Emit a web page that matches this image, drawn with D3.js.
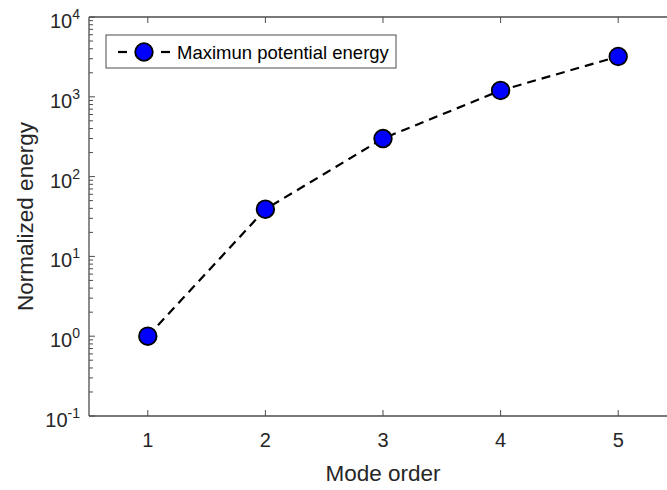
<!DOCTYPE html>
<html>
<head>
<meta charset="utf-8">
<script src="https://cdn.jsdelivr.net/npm/d3@7"></script>
<style>
  body { margin: 0; background: #fff; }
  svg { display: block; font-family: "Liberation Sans", Arial, sans-serif; }
</style>
</head>
<body>
<svg width="667" height="490"></svg>
<script>
const modes = [1, 2, 3, 4, 5];
const energy = [1, 39, 300, 1200, 3200];
const yTicks = [0.1, 1, 10, 100, 1000, 10000];
const xTicks = [1, 2, 3, 4, 5];
const seriesName = "Maximun potential energy";

const svg = d3.select("svg");
const plotLeft = 89, plotTop = 17, plotBottom = 416, plotRight = 677;
const axisColor = "#4d4d4d", textColor = "#262626";

const x = d3.scaleLinear().domain([0.5, 5.5]).range([plotLeft, plotRight]);
const y = d3.scaleLog().domain([0.1, 10000]).range([plotBottom, plotTop]);

const g = svg.append("g");

// minor ticks on y (log)
const minor = y.ticks().filter(v => !yTicks.some(t => Math.abs(t - v) / t < 1e-9));
g.selectAll(".minor").data(minor).enter().append("line")
    .attr("x1", plotLeft).attr("x2", plotLeft + 4)
    .attr("y1", d => y(d)).attr("y2", d => y(d))
    .attr("stroke", axisColor).attr("stroke-width", 1);

g.selectAll(".ymaj").data(yTicks).enter().append("line")
    .attr("x1", plotLeft).attr("x2", plotLeft + 6)
    .attr("y1", d => y(d)).attr("y2", d => y(d))
    .attr("stroke", axisColor).attr("stroke-width", 1);

// x ticks bottom & top
g.selectAll(".xb").data(xTicks).enter().append("line")
    .attr("x1", d => x(d)).attr("x2", d => x(d))
    .attr("y1", plotBottom).attr("y2", plotBottom - 6)
    .attr("stroke", axisColor);
g.selectAll(".xt").data(xTicks).enter().append("line")
    .attr("x1", d => x(d)).attr("x2", d => x(d))
    .attr("y1", plotTop).attr("y2", plotTop + 6)
    .attr("stroke", axisColor);

// axis lines
g.append("line").attr("x1", plotLeft).attr("x2", plotLeft).attr("y1", plotTop).attr("y2", plotBottom)
    .attr("stroke", axisColor).attr("stroke-width", 1.3);
g.append("line").attr("x1", plotLeft).attr("x2", plotRight).attr("y1", plotBottom).attr("y2", plotBottom)
    .attr("stroke", axisColor).attr("stroke-width", 1.3);
g.append("line").attr("x1", plotLeft).attr("x2", plotRight).attr("y1", plotTop).attr("y2", plotTop)
    .attr("stroke", axisColor).attr("stroke-width", 1.3);

// tick labels
g.selectAll(".xl").data(xTicks).enter().append("text")
    .attr("x", d => x(d)).attr("y", 447)
    .attr("text-anchor", "middle").attr("font-size", 20).attr("fill", textColor)
    .text(d => d);

const yl = g.selectAll(".yl").data(yTicks).enter().append("text")
    .attr("x", 80).attr("y", d => y(d) + 11)
    .attr("text-anchor", "end").attr("fill", textColor);
yl.append("tspan").attr("font-size", 20).text("10");
yl.append("tspan").attr("font-size", 14).attr("dy", -9).text(d => Math.round(Math.log10(d)));

// axis labels
g.append("text").attr("x", (plotLeft + plotRight) / 2).attr("y", 481)
    .attr("text-anchor", "middle").attr("font-size", 22.5).attr("fill", textColor)
    .text("Mode order");
g.append("text").attr("transform", `translate(33,${(plotTop + plotBottom) / 2}) rotate(-90)`)
    .attr("text-anchor", "middle").attr("font-size", 22.5).attr("fill", textColor)
    .text("Normalized energy");

// series
const line = d3.line().x((d, i) => x(modes[i])).y(d => y(d));
g.append("path").datum(energy)
    .attr("d", line).attr("fill", "none")
    .attr("stroke", "#000").attr("stroke-width", 2.2)
    .attr("stroke-dasharray", "9,6");

g.selectAll(".pt").data(energy).enter().append("circle")
    .attr("cx", (d, i) => x(modes[i])).attr("cy", d => y(d))
    .attr("r", 8.8).attr("fill", "#0000ff")
    .attr("stroke", "#000").attr("stroke-width", 1.8);

// legend
const lg = g.append("g");
lg.append("rect").attr("x", 106).attr("y", 35).attr("width", 290).attr("height", 33)
    .attr("fill", "#fff").attr("stroke", axisColor).attr("stroke-width", 1);
[[118, 127], [161, 170]].forEach(s => {
    lg.append("line").attr("x1", s[0]).attr("x2", s[1]).attr("y1", 52).attr("y2", 52)
        .attr("stroke", "#000").attr("stroke-width", 2.2);
});
lg.append("circle").attr("cx", 144).attr("cy", 52).attr("r", 8.8)
    .attr("fill", "#0000ff").attr("stroke", "#000").attr("stroke-width", 1.8);
lg.append("text").attr("x", 177).attr("y", 58.5).attr("font-size", 18.5).attr("fill", "#000")
    .text(seriesName);
</script>
</body>
</html>
